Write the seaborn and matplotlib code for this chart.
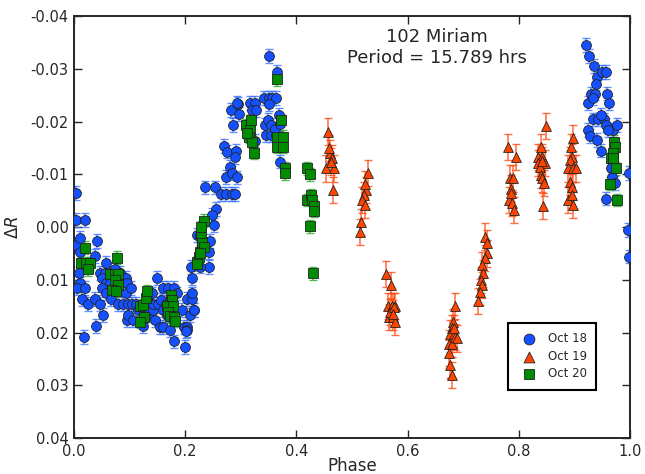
import matplotlib
matplotlib.use("Agg")
import matplotlib.pyplot as plt
from matplotlib.ticker import FormatStrFormatter, MultipleLocator
import numpy as np
import pandas as pd
import seaborn as sns

# Rotational phase and differential magnitude for each night
oct18_phase = [
    0.004, 0.004, 0.020, 0.004, 0.011, 0.011, 0.0085, 0.011, 0.006, 0.020, 0.0144, 0.025,
    0.018, 0.041, 0.038, 0.038, 0.046, 0.040, 0.053, 0.058, 0.047, 0.056, 0.065, 0.050,
    0.058, 0.065, 0.050, 0.058, 0.066, 0.074, 0.083, 0.080, 0.089, 0.098, 0.094, 0.095,
    0.094, 0.103, 0.105, 0.095, 0.098, 0.107, 0.112,
    0.116, 0.125, 0.134, 0.125, 0.136, 0.143, 0.141, 0.143, 0.149, 0.146, 0.152, 0.160,
    0.155, 0.161, 0.157, 0.161, 0.170, 0.179, 0.172, 0.179, 0.185, 0.194, 0.197, 0.203,
    0.203, 0.200, 0.204, 0.212, 0.208, 0.215, 0.212, 0.212, 0.210, 0.216, 0.221, 0.227,
    0.242, 0.243, 0.226, 0.244, 0.202, 0.131, 0.165, 0.168,
    0.236, 0.254, 0.264, 0.274, 0.284, 0.290, 0.256, 0.248, 0.251, 0.269, 0.275, 0.273,
    0.281, 0.285, 0.292, 0.289, 0.293, 0.283, 0.286, 0.295, 0.296, 0.294,
    0.317, 0.325, 0.320, 0.328, 0.326, 0.350, 0.366, 0.341, 0.350, 0.356, 0.364, 0.350,
    0.344, 0.349, 0.346, 0.354, 0.363, 0.355, 0.361, 0.368, 0.370, 0.371,
    0.921, 0.927, 0.936, 0.941, 0.950, 0.957, 0.939, 0.930, 0.937, 0.925, 0.933, 0.959,
    0.963, 0.933, 0.943, 0.953, 0.948, 0.957, 0.969, 0.977, 0.924, 0.928, 0.941, 0.948,
    0.966, 0.967, 0.973, 0.957, 0.999, 0.996, 0.999, 0.961,
]
oct18_dR = [
    -0.0064, -0.0013, -0.0013, 0.0034, 0.0021, 0.0047, 0.0088, 0.0107, 0.0116, 0.0116, 0.0137, 0.0146,
    0.0208, 0.0027, 0.0055, 0.0137, 0.0146, 0.0188, 0.0167, 0.0068, 0.0087, 0.0087, 0.0087, 0.0097,
    0.0107, 0.0107, 0.0116, 0.0126, 0.0137, 0.0080, 0.0087, 0.0146, 0.0146, 0.0146, 0.0097, 0.0107,
    0.0126, 0.0116, 0.0146, 0.0176, 0.0166, 0.0176, 0.0146,
    0.0157, 0.0176, 0.0167, 0.0188, 0.0157, 0.0157, 0.0126, 0.0146, 0.0097, 0.0176, 0.0146, 0.0157,
    0.0189, 0.0189, 0.0138, 0.0116, 0.0116, 0.0116, 0.0195, 0.0217, 0.0126, 0.0157, 0.0189, 0.0189,
    0.0195, 0.0227, 0.0137, 0.0137, 0.0167, 0.0157, 0.0126, 0.0097, 0.0076, 0.0157, 0.0015, 0.0017,
    0.0047, 0.0076, 0.0075, 0.0026, 0.0198, 0.0137, 0.0146, 0.0167,
    -0.0075, -0.0075, -0.0063, -0.0063, -0.0063, -0.0063, -0.0034, -0.0023, -0.0004, -0.0154, -0.0143, -0.0095,
    -0.0114, -0.0103, -0.0144, -0.0133, -0.0094, -0.0222, -0.0193, -0.0233, -0.0214, -0.0235,
    -0.0235, -0.0235, -0.0222, -0.0222, -0.0164, -0.0324, -0.0294, -0.0244, -0.0244, -0.0244, -0.0244, -0.0233,
    -0.0193, -0.0203, -0.0174, -0.0174, -0.0174, -0.0193, -0.0186, -0.0212, -0.0195, -0.0124,
    -0.0345, -0.0324, -0.0305, -0.0285, -0.0294, -0.0294, -0.0272, -0.0253, -0.0253, -0.0235, -0.0244, -0.0253,
    -0.0235, -0.0204, -0.0204, -0.0204, -0.0212, -0.0193, -0.0184, -0.0193, -0.0184, -0.0172, -0.0165, -0.0145,
    -0.0112, -0.0095, -0.0083, -0.0054, -0.0103, 0.0006, 0.0056, -0.0184,
]

oct19_phase = [
    0.456, 0.461, 0.464, 0.454, 0.467, 0.466, 0.462, 0.459,
    0.528, 0.526, 0.521, 0.518, 0.524, 0.517, 0.514, 0.524,
    0.562, 0.571, 0.565, 0.572, 0.578, 0.566, 0.574, 0.569, 0.577, 0.575, 0.574,
    0.686, 0.682, 0.680, 0.677, 0.683, 0.674, 0.680, 0.686, 0.689, 0.674, 0.677, 0.680, 0.684,
    0.740, 0.742, 0.743, 0.739, 0.734, 0.736, 0.732, 0.734, 0.730, 0.726,
    0.781, 0.795, 0.784, 0.789, 0.786, 0.783, 0.787, 0.792, 0.786,
    0.849, 0.840, 0.835, 0.842, 0.834, 0.847, 0.838, 0.840, 0.842, 0.846, 0.844, 0.841,
    0.898, 0.894, 0.895, 0.892, 0.888, 0.897, 0.903, 0.892, 0.895, 0.888, 0.898, 0.896,
]
oct19_dR = [
    -0.0181, -0.0140, -0.0130, -0.0111, -0.0111, -0.0070, -0.0124, -0.0150,
    -0.0102, -0.0070, -0.0061, -0.0051, -0.0042, -0.0010, 0.0009, -0.0081,
    0.0089, 0.0110, 0.0150, 0.0150, 0.0150, 0.0170, 0.0170, 0.0161, 0.0180, 0.0151, 0.0164,
    0.0150, 0.0180, 0.0192, 0.0202, 0.0202, 0.0221, 0.0221, 0.0208, 0.0211, 0.0239, 0.0262, 0.0281, 0.0192,
    0.0018, 0.0031, 0.0050, 0.0059, 0.0072, 0.0088, 0.0100, 0.0110, 0.0123, 0.0140,
    -0.0152, -0.0133, -0.0092, -0.0092, -0.0073, -0.0051, -0.0045, -0.0032, -0.0064,
    -0.0191, -0.0152, -0.0133, -0.0133, -0.0121, -0.0121, -0.0114, -0.0099, -0.0092, -0.0083, -0.0040, -0.0126,
    -0.0169, -0.0152, -0.0133, -0.0127, -0.0111, -0.0111, -0.0111, -0.0086, -0.0076, -0.0051, -0.0042, -0.0061,
]

oct20_phase = [
    0.020, 0.0126, 0.0216, 0.029, 0.026, 0.078, 0.065, 0.073, 0.080, 0.074, 0.080, 0.068, 0.076,
    0.119, 0.125, 0.129, 0.131, 0.126, 0.118, 0.174, 0.176, 0.167, 0.178, 0.170, 0.173, 0.180, 0.182,
    0.221, 0.224, 0.227, 0.230, 0.231, 0.228, 0.234, 0.234, 0.228, 0.226, 0.222,
    0.310, 0.317, 0.314, 0.320, 0.323, 0.319, 0.312, 0.366, 0.372, 0.366, 0.376, 0.366, 0.376, 0.379, 0.380,
    0.419, 0.424, 0.420, 0.426, 0.428, 0.431, 0.431, 0.425, 0.430,
    0.971, 0.973, 0.969, 0.966, 0.970, 0.975, 0.964, 0.977,
]
oct20_dR = [
    0.0039, 0.0069, 0.0069, 0.0069, 0.0080, 0.0058, 0.0090, 0.0090, 0.0090, 0.0100, 0.0110, 0.0119, 0.0121,
    0.0150, 0.0148, 0.0135, 0.0121, 0.0170, 0.0180, 0.0129, 0.0138, 0.0150, 0.0150, 0.0161, 0.0169, 0.0170, 0.0178,
    0.0066, 0.0056, 0.0047, 0.0034, 0.0028, 0.0011, 0.0037, -0.0012, 0.0000, 0.0050, 0.0070,
    -0.0193, -0.0183, -0.0171, -0.0162, -0.0141, -0.0203, -0.0178, -0.0280, -0.0203, -0.0171, -0.0171, -0.0152, -0.0152, -0.0111, -0.0102,
    -0.0111, -0.0100, -0.0051, -0.0061, -0.0051, -0.0040, -0.0031, -0.0001, 0.0088,
    -0.0162, -0.0152, -0.0140, -0.0130, -0.0130, -0.0111, -0.0082, -0.0051,
]

# Typical photometric uncertainty per night (mag)
oct18_err = 0.0013
oct19_err = 0.0025
oct20_err = 0.0012

nights = ["Oct 18", "Oct 19", "Oct 20"]
title_lines = ["102 Miriam", "Period = 15.789 hrs"]

df = pd.concat([
    pd.DataFrame({"phase": oct18_phase, "dR": oct18_dR, "err": oct18_err, "night": nights[0]}),
    pd.DataFrame({"phase": oct19_phase, "dR": oct19_dR, "err": oct19_err, "night": nights[1]}),
    pd.DataFrame({"phase": oct20_phase, "dR": oct20_dR, "err": oct20_err, "night": nights[2]}),
], ignore_index=True)

sns.set_style("ticks")
plt.rcParams["font.family"] = ["DejaVu Sans"]
plt.rcParams["axes.unicode_minus"] = False
plt.rcParams["mathtext.fontset"] = "dejavusans"

palette = {"Oct 18": "#1450ff", "Oct 19": "#ff4500", "Oct 20": "#008c00"}
bar_colors = {"Oct 18": "#3c74ff", "Oct 19": "#ff4a10", "Oct 20": "#2aa82a"}
markers = {"Oct 18": "o", "Oct 19": "^", "Oct 20": "s"}

fig = plt.figure(figsize=(6.45, 4.74), dpi=100)
ax = fig.add_axes([0.1147, 0.0759, 0.862, 0.8903])

for night in nights:
    sub = df[df["night"] == night]
    ax.errorbar(sub["phase"], sub["dR"], yerr=sub["err"], fmt="none",
                ecolor=bar_colors[night], elinewidth=1.1, capsize=3.2,
                capthick=1.0, alpha=0.8, zorder=2)
    sns.scatterplot(data=sub, x="phase", y="dR", marker=markers[night],
                    color=palette[night], s=50, edgecolor="#222222",
                    linewidth=0.6, label=night, ax=ax, zorder=3)

ax.set_xlim(0.0, 1.0)
ax.set_ylim(0.04, -0.04)
ax.xaxis.set_major_locator(MultipleLocator(0.2))
ax.yaxis.set_major_locator(MultipleLocator(0.01))
ax.xaxis.set_major_formatter(FormatStrFormatter("%.1f"))
ax.yaxis.set_major_formatter(FormatStrFormatter("%.2f"))
ax.tick_params(direction="in", length=6, width=1, top=True, right=True,
               labelsize=10.5, pad=4)
for sp in ax.spines.values():
    sp.set_linewidth(1.4)

ax.set_xlabel("Phase", fontsize=12, labelpad=-1)
ax.set_ylabel(r"$\Delta R$", fontsize=12, labelpad=6)

ax.text(0.653, 0.972, "\n".join(title_lines), transform=ax.transAxes,
        ha="center", va="top", fontsize=13, linespacing=1.25)

handles, labels = ax.get_legend_handles_labels()
leg = ax.legend(handles, labels, loc="lower right", bbox_to_anchor=(0.95, 0.10),
                fontsize=8.5, frameon=True, fancybox=False, framealpha=1,
                edgecolor="black", borderpad=0.8, handletextpad=0.6,
                labelspacing=0.4, markerscale=1.1)
leg.get_frame().set_linewidth(1.5)

fig.savefig("out.png", dpi=100)
